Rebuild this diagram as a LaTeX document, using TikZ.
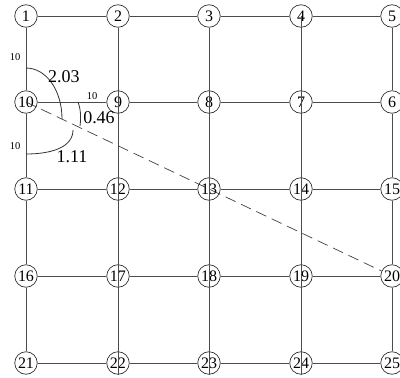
\documentclass[tikz,border=0pt]{standalone}
\usepackage{fontspec}
\setmainfont{Liberation Serif}
\begin{document}
\begin{tikzpicture}[x=1pt,y=-1pt,
  vtx/.style={circle, draw=black!80, fill=white, minimum size=22.5pt, inner sep=0pt, line width=0.7pt, font=\fontsize{16}{16}\selectfont},
  edge/.style={draw=black!70, line width=0.8pt},
  big/.style={inner sep=0pt, font=\fontsize{18}{18}\selectfont},
  small/.style={inner sep=0pt, font=\fontsize{10.5}{10.5}\selectfont},
  arcl/.style={draw=black!80, line width=0.8pt}]
\useasboundingbox (0,0) rectangle (400,378);
% nodes
\node[vtx] (n1) at (26,16) {1};
\node[vtx] (n2) at (118,16) {2};
\node[vtx] (n3) at (209,16) {3};
\node[vtx] (n4) at (301,16) {4};
\node[vtx] (n5) at (392,16) {5};
\node[vtx] (n10) at (26,102) {10};
\node[vtx] (n9) at (118,102) {9};
\node[vtx] (n8) at (209,102) {8};
\node[vtx] (n7) at (301,102) {7};
\node[vtx] (n6) at (392,102) {6};
\node[vtx] (n11) at (26,189) {11};
\node[vtx] (n12) at (118,189) {12};
\node[vtx] (n13) at (209,189) {13};
\node[vtx] (n14) at (301,189) {14};
\node[vtx] (n15) at (392,189) {15};
\node[vtx] (n16) at (26,276) {16};
\node[vtx] (n17) at (118,276) {17};
\node[vtx] (n18) at (209,276) {18};
\node[vtx] (n19) at (301,276) {19};
\node[vtx] (n20) at (392,276) {20};
\node[vtx] (n21) at (26,363) {21};
\node[vtx] (n22) at (118,363) {22};
\node[vtx] (n23) at (209,363) {23};
\node[vtx] (n24) at (301,363) {24};
\node[vtx] (n25) at (392,363) {25};
% horizontal edges
\draw[edge] (n1)--(n2) (n2)--(n3) (n3)--(n4) (n4)--(n5);
\draw[edge] (n10)--(n9) (n9)--(n8) (n8)--(n7) (n7)--(n6);
\draw[edge] (n11)--(n12) (n12)--(n13) (n13)--(n14) (n14)--(n15);
\draw[edge] (n16)--(n17) (n17)--(n18) (n18)--(n19) (n19)--(n20);
\draw[edge] (n21)--(n22) (n22)--(n23) (n23)--(n24) (n24)--(n25);
% outer verticals
\draw[edge] (n1)--(n10) (n10)--(n11) (n11)--(n16) (n16)--(n21);
\draw[edge] (n5)--(n6) (n6)--(n15) (n15)--(n20) (n20)--(n25);
% inner verticals passing through circles
\draw[edge] (n2.south)--(n22.south);
\draw[edge] (n3.south)--(n23.south);
\draw[edge] (n4.center)--(n24.south);
% dashed line
\draw[draw=black!75, line width=0.7pt, dash pattern=on 11pt off 6pt] (n10.center)--(n20);
% arcs
\coordinate (a1) at (26,68);
\coordinate (a2) at (62,119);
\draw[arcl] (a1) .. controls (46,68) and (62,90) .. (a2);
\coordinate (b1) at (26,154);
\coordinate (b2) at (73,130);
\draw[arcl] (b1) .. controls (52,154) and (73,147) .. (b2);
\coordinate (c1) at (78,102);
\coordinate (c2) at (80,126);
\draw[arcl] (c1) .. controls (81,110) and (81,118) .. (c2);
% labels
\node[small] (l1) at (15,57) {10};
\node[small] (l2) at (92,96) {10};
\node[small] (l3) at (15,146) {10};
\node[big] (l4) at (64,77) {2.03};
\node[big] (l5) at (99,118) {0.46};
\node[big] (l6) at (72,157) {1.11};
\end{tikzpicture}
\end{document}
